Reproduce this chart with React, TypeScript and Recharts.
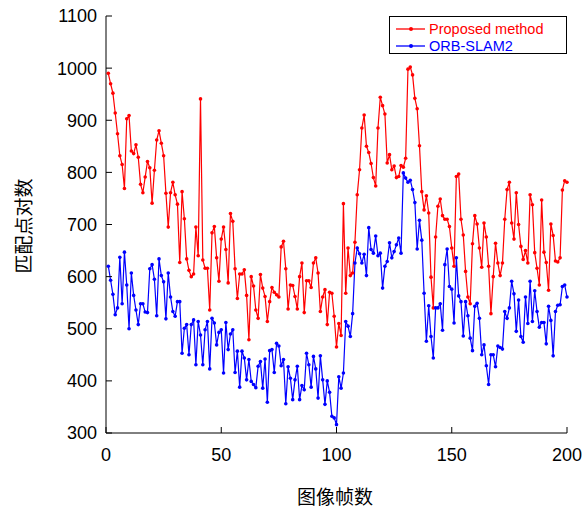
import { LineChart, Line, XAxis, YAxis, Legend } from "recharts";

// matched point pairs per frame, frames 1..200
const proposed = [
  990, 970, 952, 914, 874, 832, 815, 769, 903, 909,
  841, 836, 853, 829, 777, 761, 791, 821, 809, 741,
  804, 862, 880, 856, 832, 760, 695, 761, 781, 757,
  739, 627, 763, 711, 634, 612, 600, 605, 695, 640,
  941, 632, 616, 616, 536, 684, 696, 636, 591, 672,
  695, 652, 588, 721, 706, 615, 558, 605, 605, 613,
  564, 479, 600, 582, 536, 520, 604, 578, 562, 514,
  552, 579, 570, 565, 561, 657, 668, 615, 538, 584,
  583, 562, 538, 600, 626, 531, 592, 592, 579, 626,
  636, 607, 533, 561, 575, 508, 570, 568, 524, 465,
  510, 487, 740, 568, 655, 602, 607, 666, 757, 805,
  885, 910, 850, 838, 817, 790, 774, 885, 944, 928,
  912, 818, 834, 805, 812, 790, 792, 813, 810, 827,
  998, 1002, 987, 942, 922, 851, 763, 728, 755, 722,
  599, 540, 676, 735, 749, 717, 710, 710, 696, 655,
  620, 792, 797, 710, 680, 610, 561, 548, 663, 717,
  701, 655, 618, 703, 676, 620, 529, 600, 664, 626,
  602, 626, 710, 767, 781, 703, 672, 761, 700, 658,
  633, 650, 626, 757, 738, 646, 616, 584, 747, 647,
  627, 574, 701, 679, 630, 628, 636, 766, 784, 781,
];

const orbSlam2 = [
  620, 593, 566, 527, 540, 637, 548, 647, 584, 500,
  607, 564, 536, 508, 548, 548, 532, 531, 615, 623,
  595, 525, 634, 602, 590, 519, 607, 561, 533, 524,
  552, 552, 453, 501, 508, 450, 508, 517, 431, 514,
  488, 431, 498, 514, 423, 520, 511, 469, 493, 498,
  415, 512, 460, 490, 498, 416, 457, 388, 457, 444,
  402, 441, 399, 393, 387, 428, 437, 386, 442, 359,
  458, 460, 416, 472, 467, 429, 441, 356, 427, 405,
  364, 402, 428, 364, 391, 383, 453, 431, 388, 447,
  423, 367, 448, 402, 355, 400, 378, 332, 329, 316,
  408, 386, 415, 514, 505, 485, 529, 626, 655, 644,
  626, 643, 602, 694, 652, 645, 678, 640, 645, 578,
  620, 629, 665, 636, 648, 661, 674, 645, 799, 789,
  781, 785, 767, 742, 653, 708, 670, 568, 476, 544,
  485, 444, 540, 540, 548, 497, 623, 653, 581, 576,
  511, 636, 563, 552, 486, 552, 525, 482, 458, 543,
  549, 520, 450, 469, 429, 393, 450, 450, 427, 467,
  464, 461, 533, 520, 540, 591, 567, 495, 555, 485,
  474, 561, 510, 591, 514, 573, 533, 503, 512, 512,
  471, 543, 516, 448, 533, 545, 546, 581, 584, 561,
];

const xTicks = [0, 50, 100, 150, 200];
const yTicks = [300, 400, 500, 600, 700, 800, 900, 1000, 1100];

const RED = "#ff0000";
const BLUE = "#0000ff";
const FONT = "'Liberation Sans', Arial, sans-serif";
const CJK = "'Noto Sans CJK SC', sans-serif";

const data = proposed.map((v, i) => ({
  frame: i + 1,
  proposed: v,
  orb: orbSlam2[i],
}));

const tickStyle = { fontSize: 18, fill: "#000", fontFamily: FONT };
const noLabel = () => <g />;

function LegendBox() {
  const rows = [
    { name: "Proposed method", color: RED },
    { name: "ORB-SLAM2", color: BLUE },
  ];
  return (
    <div
      style={{
        border: "1.5px solid #000",
        background: "#fff",
        width: 178,
        height: 38,
        boxSizing: "border-box",
        paddingTop: 3,
        fontFamily: FONT,
      }}
    >
      {rows.map((r) => (
        <div
          key={r.name}
          style={{ display: "flex", alignItems: "center", height: 17 }}
        >
          <svg width={40} height={10} style={{ marginLeft: 6 }}>
            <line x1={0} y1={5} x2={29} y2={5} stroke={r.color} strokeWidth={1.3} />
            <circle cx={15} cy={5} r={2} fill={r.color} />
          </svg>
          <span style={{ color: r.color, fontSize: 14.5, marginLeft: -7 }}>
            {r.name}
          </span>
        </div>
      ))}
    </div>
  );
}

export default function App() {
  return (
    <div style={{ position: "absolute", left: 0, top: 0, width: 583, height: 507 }}>
      <LineChart
        width={583}
        height={507}
        data={data}
        margin={{ top: 16, right: 16, bottom: 34, left: 0 }}
      >
        <XAxis
          dataKey="frame"
          type="number"
          domain={[0, 200]}
          ticks={xTicks}
          tickSize={-6}
          tickMargin={21}
          height={40}
          stroke="#000"
          tick={tickStyle}
        />
        <XAxis
          xAxisId="top"
          orientation="top"
          dataKey="frame"
          type="number"
          domain={[0, 200]}
          ticks={xTicks}
          tickSize={-6}
          height={0}
          stroke="#000"
          tick={noLabel}
        />
        <YAxis
          type="number"
          domain={[300, 1100]}
          ticks={yTicks}
          tickSize={-6}
          tickMargin={15}
          width={106}
          stroke="#000"
          tick={tickStyle}
        />
        <YAxis
          yAxisId="right"
          orientation="right"
          type="number"
          domain={[300, 1100]}
          ticks={yTicks}
          tickSize={-6}
          width={0}
          stroke="#000"
          tick={noLabel}
        />
        <Legend
          layout="horizontal"
          verticalAlign="middle"
          align="center"
          wrapperStyle={{ top: 16, left: 389, width: 178 }}
          content={() => <LegendBox />}
        />
        <Line
          dataKey="proposed"
          stroke={RED}
          strokeWidth={1.2}
          dot={{ r: 1.8, fill: RED, stroke: RED, strokeWidth: 0 }}
          isAnimationActive={false}
        />
        <Line
          dataKey="orb"
          stroke={BLUE}
          strokeWidth={1.2}
          dot={{ r: 1.8, fill: BLUE, stroke: BLUE, strokeWidth: 0 }}
          isAnimationActive={false}
        />
      </LineChart>
      <div
        style={{
          position: "absolute",
          left: 22,
          top: 226,
          transform: "translate(-50%, -50%) rotate(-90deg)",
          fontFamily: CJK,
          fontSize: 19,
          whiteSpace: "nowrap",
          color: "#000",
        }}
      >
        匹配点对数
      </div>
      <div
        style={{
          position: "absolute",
          left: 335,
          top: 495,
          transform: "translate(-50%, -50%)",
          fontFamily: CJK,
          fontSize: 19,
          whiteSpace: "nowrap",
          color: "#000",
        }}
      >
        图像帧数
      </div>
    </div>
  );
}
